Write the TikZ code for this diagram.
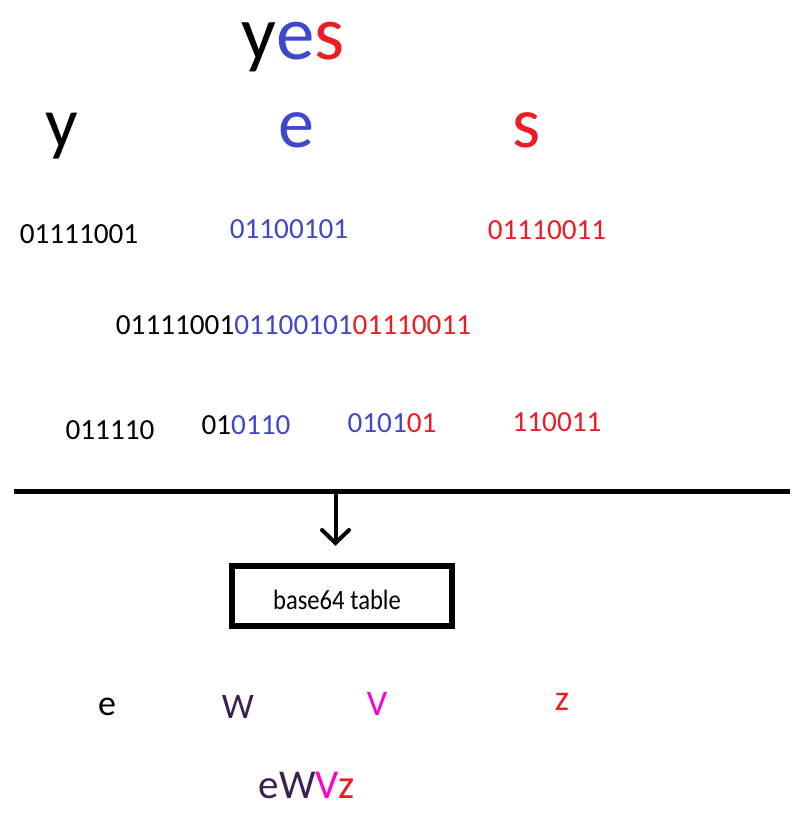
\documentclass[tikz,border=0pt]{standalone}
\usepackage{fontspec}
\setmainfont{Carlito}
\definecolor{cblue}{HTML}{3F48CC}
\definecolor{cred}{HTML}{ED1C24}
\definecolor{cmag}{HTML}{FF00CC}
\definecolor{cpur}{HTML}{3B2150}
\begin{document}
\begin{tikzpicture}[x=1pt,y=-1pt,
  lbl/.style={anchor=base,inner sep=0pt},
  big/.style={lbl,font=\fontsize{77}{80}\selectfont},
  mid/.style={lbl,font=\fontsize{72}{76}\selectfont},
  bits/.style={lbl,font=\fontsize{29.2}{32}\selectfont},
  boxtext/.style={lbl,font=\fontsize{28}{30}\selectfont},
  outl/.style={lbl,font=\fontsize{36}{38}\selectfont},
  res/.style={lbl,font=\fontsize{41}{44}\selectfont}]
\useasboundingbox (0,0) rectangle (793,818);
% top word
\node[big] (yes) at (293,60) {y\textcolor{cblue}{e}\textcolor{cred}{s}};
\node[mid] (ly) at (62,148) {y};
\node[mid,text=cblue] (le) at (296,148) {e};
\node[mid,text=cred] (ls) at (527,148) {s};
% bytes
\node[bits] (by) at (79,243) {01111001};
\node[bits,text=cblue] (be) at (289,238) {01100101};
\node[bits,text=cred] (bs) at (547,240) {01110011};
% combined
\node[bits] (all) at (293.5,334) {01111001\textcolor{cblue}{01100101}\textcolor{cred}{01110011}};
% 6-bit groups
\node[bits] (g1) at (110,439) {011110};
\node[bits] (g2) at (246,434) {01\textcolor{cblue}{0110}};
\node[bits,text=cblue] (g3) at (392,432) {0101\textcolor{cred}{01}};
\node[bits,text=cred] (g4) at (557,431) {110011};
% separator line and arrow
\coordinate (la) at (14,491);
\coordinate (lb) at (790,491);
\draw[line width=5pt] (la) -- (lb);
\coordinate (as) at (335.5,491);
\coordinate (at) at (335.5,543);
\coordinate (al) at (322,530);
\coordinate (ar) at (349,530);
\draw[line width=4pt] (as) -- (at);
\draw[line width=4pt,line cap=round,line join=miter] (al) -- (at) -- (ar);
% table box
\draw[line width=6pt] (231.5,565.5) rectangle (452,625.5);
\node[boxtext] (tbl) at (337,609) {\scalebox{0.88}[1]{base64 table}};
% output chars
\node[outl] (oe) at (107,715) {e};
\node[outl,text=cpur] (oW) at (238,718) {W};
\node[outl,text=cmag] (oV) at (377,715) {V};
\node[outl,text=cred] (oz) at (562,710) {z};
\node[res] (out) at (307,798) {\textcolor{cpur}{eW}\textcolor{cmag}{V}\textcolor{cred}{z}};
\end{tikzpicture}
\end{document}
